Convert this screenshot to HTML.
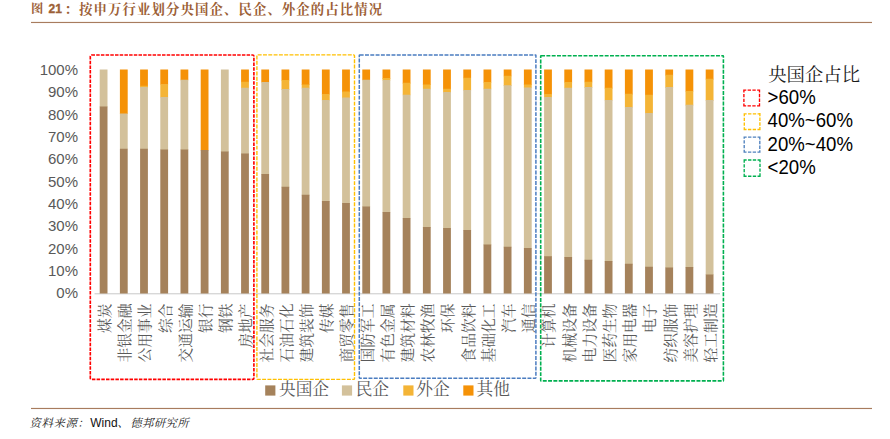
<!DOCTYPE html>
<html lang="zh"><head><meta charset="utf-8"><title>图 21：按申万行业划分央国企、民企、外企的占比情况</title>
<style>html,body{margin:0;padding:0;background:#fff;font-family:"Liberation Sans",sans-serif}svg{display:block}</style></head>
<body>
<svg role="img" width="890" height="439" viewBox="0 0 890 439" font-family="'Liberation Sans', sans-serif"><title>图 21：按申万行业划分央国企、民企、外企的占比情况</title><desc>堆积柱状图：央国企、民企、外企、其他占比（0%–100%）。分组：央国企占比 &gt;60%、40%~60%、20%~40%、&lt;20%。行业：煤炭、非银金融、公用事业、综合、交通运输、银行、钢铁、房地产、社会服务、石油石化、建筑装饰、传媒、商贸零售、国防军工、有色金属、建筑材料、农林牧渔、环保、食品饮料、基础化工、汽车、通信、计算机、机械设备、电力设备、医药生物、家用电器、电子、纺织服饰、美容护理、轻工制造。资料来源：Wind、德邦研究所</desc>
<g fill="#9C6036" font-family="'Liberation Serif', 'Noto Serif CJK SC', serif" font-weight="bold"><text x="31" y="13.2" font-size="12.3">图</text><text x="64.5" y="14" font-size="13.4">：</text><text x="79" y="14" font-size="13.4" textLength="303.2" lengthAdjust="spacing">按申万行业划分央国企、民企、外企的占比情况</text></g>
<text x="48.6" y="13.3" font-size="12" font-weight="bold" fill="#9C6036" stroke="#9C6036" stroke-width="0.35">21</text>
<rect x="31" y="21.9" width="841" height="1.15" fill="#A87C5E"/>
<g fill="#595959" font-size="15" text-anchor="end"><text x="78" y="298.4">0%</text><text x="78" y="276">10%</text><text x="78" y="253.6">20%</text><text x="78" y="231.3">30%</text><text x="78" y="208.9">40%</text><text x="78" y="186.6">50%</text><text x="78" y="164.2">60%</text><text x="78" y="141.8">70%</text><text x="78" y="119.5">80%</text><text x="78" y="97.1">90%</text><text x="78" y="74.8">100%</text></g>
<rect x="94.5" y="293.15" width="625.5" height="1.2" fill="#D2D2D2"/>
<path fill="#F59207" d="M119.9 69.4h7.8v44.7h-7.8zM140.1 69.4h7.8v17h-7.8zM160.3 69.4h7.8v15.4h-7.8zM180.5 69.4h7.8v10.9h-7.8zM200.7 69.4h7.8v81.2h-7.8zM241.1 69.4h7.8v12.9h-7.8zM261.3 69.4h7.8v13.1h-7.8zM281.5 69.4h7.8v11.1h-7.8zM301.7 69.4h7.8v15.6h-7.8zM321.9 69.4h7.8v25.2h-7.8zM342.1 69.4h7.8v22.8h-7.8zM362.3 69.4h7.8v10.9h-7.8zM382.5 69.4h7.8v9.3h-7.8zM402.7 69.4h7.8v14h-7.8zM422.9 69.4h7.8v15.6h-7.8zM443.1 69.4h7.8v19.9h-7.8zM463.3 69.4h7.8v8.9h-7.8zM483.5 69.4h7.8v13.1h-7.8zM503.7 69.4h7.8v6.9h-7.8zM523.9 69.4h7.8v15.6h-7.8zM544.1 69.4h7.8v25.2h-7.8zM564.3 69.4h7.8v13.1h-7.8zM584.5 69.4h7.8v12.9h-7.8zM604.7 69.4h7.8v19h-7.8zM624.9 69.4h7.8v25h-7.8zM645.1 69.4h7.8v25.9h-7.8zM665.3 69.4h7.8v6h-7.8zM685.5 69.4h7.8v22.1h-7.8zM705.7 69.4h7.8v10h-7.8z"/>
<path fill="#F4B436" d="M140.1 85.8h7.8v1.9h-7.8zM160.3 84.2h7.8v13.4h-7.8zM241.1 81.7h7.8v6.6h-7.8zM281.5 79.9h7.8v9.8h-7.8zM301.7 84.4h7.8v4h-7.8zM321.9 94h7.8v6.6h-7.8zM342.1 91.6h7.8v6.6h-7.8zM382.5 78.1h7.8v2.4h-7.8zM402.7 82.8h7.8v12.5h-7.8zM422.9 84.4h7.8v4.9h-7.8zM443.1 88.7h7.8v4h-7.8zM463.3 77.7h7.8v12.9h-7.8zM483.5 81.9h7.8v7.3h-7.8zM503.7 75.7h7.8v10.2h-7.8zM523.9 84.4h7.8v3.7h-7.8zM544.1 94h7.8v3.5h-7.8zM564.3 81.9h7.8v6.4h-7.8zM584.5 81.7h7.8v6h-7.8zM604.7 87.8h7.8v12.7h-7.8zM624.9 93.8h7.8v13.8h-7.8zM645.1 94.7h7.8v18.7h-7.8zM665.3 74.8h7.8v12.9h-7.8zM685.5 90.9h7.8v14.5h-7.8zM705.7 78.8h7.8v21.9h-7.8z"/>
<path fill="#D3C19B" d="M99.7 69.4h7.8v37.8h-7.8zM119.9 113.5h7.8v35.8h-7.8zM140.1 87.1h7.8v62.2h-7.8zM160.3 97h7.8v53h-7.8zM180.5 79.7h7.8v70.3h-7.8zM220.9 69.4h7.8v82.8h-7.8zM241.1 87.8h7.8v66.5h-7.8zM261.3 81.9h7.8v92.7h-7.8zM281.5 89.1h7.8v98.3h-7.8zM301.7 87.8h7.8v107.7h-7.8zM321.9 100.1h7.8v101.4h-7.8zM342.1 97.6h7.8v105.9h-7.8zM362.3 79.7h7.8v127.4h-7.8zM382.5 79.9h7.8v132.5h-7.8zM402.7 94.7h7.8v123.8h-7.8zM422.9 88.7h7.8v139h-7.8zM443.1 92h7.8v136.6h-7.8zM463.3 90h7.8v140.6h-7.8zM483.5 88.7h7.8v156.5h-7.8zM503.7 85.3h7.8v162.1h-7.8zM523.9 87.5h7.8v161h-7.8zM544.1 97h7.8v159.9h-7.8zM564.3 87.8h7.8v169.7h-7.8zM584.5 87.1h7.8v173.3h-7.8zM604.7 99.9h7.8v161.7h-7.8zM624.9 107h7.8v157.4h-7.8zM645.1 112.9h7.8v154.5h-7.8zM665.3 87.1h7.8v180.9h-7.8zM685.5 104.8h7.8v162.8h-7.8zM705.7 100.1h7.8v174.9h-7.8z"/>
<path fill="#A5825B" d="M99.7 106.6h7.8v186.8h-7.8zM119.9 148.7h7.8v144.7h-7.8zM140.1 148.7h7.8v144.7h-7.8zM160.3 149.4h7.8v144h-7.8zM180.5 149.4h7.8v144h-7.8zM200.7 150h7.8v143.4h-7.8zM220.9 151.6h7.8v141.8h-7.8zM241.1 153.6h7.8v139.8h-7.8zM261.3 174h7.8v119.4h-7.8zM281.5 186.8h7.8v106.6h-7.8zM301.7 194.8h7.8v98.6h-7.8zM321.9 200.9h7.8v92.5h-7.8zM342.1 202.9h7.8v90.5h-7.8zM362.3 206.5h7.8v86.9h-7.8zM382.5 211.9h7.8v81.5h-7.8zM402.7 217.9h7.8v75.5h-7.8zM422.9 227.1h7.8v66.3h-7.8zM443.1 228h7.8v65.4h-7.8zM463.3 230h7.8v63.4h-7.8zM483.5 244.6h7.8v48.8h-7.8zM503.7 246.8h7.8v46.6h-7.8zM523.9 247.9h7.8v45.5h-7.8zM544.1 256.2h7.8v37.2h-7.8zM564.3 256.9h7.8v36.5h-7.8zM584.5 259.8h7.8v33.6h-7.8zM604.7 260.9h7.8v32.5h-7.8zM624.9 263.8h7.8v29.6h-7.8zM645.1 266.7h7.8v26.7h-7.8zM665.3 267.4h7.8v26h-7.8zM685.5 267h7.8v26.4h-7.8zM705.7 274.4h7.8v19h-7.8z"/>
<g fill="#595959" font-family="'Liberation Serif', 'Noto Serif CJK SC', serif" font-size="14.78" text-anchor="end">
<text transform="translate(110 303.5) rotate(-90)">煤炭</text>
<text transform="translate(130.2 303.5) rotate(-90)">非银金融</text>
<text transform="translate(150.4 303.5) rotate(-90)">公用事业</text>
<text transform="translate(170.6 303.5) rotate(-90)">综合</text>
<text transform="translate(190.8 303.5) rotate(-90)">交通运输</text>
<text transform="translate(211 303.5) rotate(-90)">银行</text>
<text transform="translate(231.2 303.5) rotate(-90)">钢铁</text>
<text transform="translate(251.4 303.5) rotate(-90)">房地产</text>
<text transform="translate(271.6 303.5) rotate(-90)">社会服务</text>
<text transform="translate(291.8 303.5) rotate(-90)">石油石化</text>
<text transform="translate(312 303.5) rotate(-90)">建筑装饰</text>
<text transform="translate(332.2 303.5) rotate(-90)">传媒</text>
<text transform="translate(352.4 303.5) rotate(-90)">商贸零售</text>
<text transform="translate(372.6 303.5) rotate(-90)">国防军工</text>
<text transform="translate(392.8 303.5) rotate(-90)">有色金属</text>
<text transform="translate(413 303.5) rotate(-90)">建筑材料</text>
<text transform="translate(433.2 303.5) rotate(-90)">农林牧渔</text>
<text transform="translate(453.4 303.5) rotate(-90)">环保</text>
<text transform="translate(473.6 303.5) rotate(-90)">食品饮料</text>
<text transform="translate(493.8 303.5) rotate(-90)">基础化工</text>
<text transform="translate(514 303.5) rotate(-90)">汽车</text>
<text transform="translate(534.2 303.5) rotate(-90)">通信</text>
<text transform="translate(554.4 303.5) rotate(-90)">计算机</text>
<text transform="translate(574.6 303.5) rotate(-90)">机械设备</text>
<text transform="translate(594.8 303.5) rotate(-90)">电力设备</text>
<text transform="translate(615 303.5) rotate(-90)">医药生物</text>
<text transform="translate(635.2 303.5) rotate(-90)">家用电器</text>
<text transform="translate(655.4 303.5) rotate(-90)">电子</text>
<text transform="translate(675.6 303.5) rotate(-90)">纺织服饰</text>
<text transform="translate(695.8 303.5) rotate(-90)">美容护理</text>
<text transform="translate(716 303.5) rotate(-90)">轻工制造</text>
</g>
<rect x="90.3" y="55" width="163.6" height="324.4" rx="1.2" fill="none" stroke="#FF0000" stroke-width="1.65" stroke-dasharray="3.5 1.2"/>
<rect x="256.9" y="54.9" width="97.6" height="324.5" rx="0.8" fill="none" stroke="#FFC000" stroke-width="1.4" stroke-dasharray="3.95 1.35"/>
<rect x="359.3" y="54.9" width="176.6" height="323.3" rx="0.4" fill="none" stroke="#4A7CC0" stroke-width="1.5" stroke-dasharray="3.95 1.35"/>
<rect x="540.7" y="55.7" width="182.7" height="325.2" rx="0.4" fill="none" stroke="#00B050" stroke-width="1.6" stroke-dasharray="3.95 1.35"/>
<rect x="265.2" y="385.4" width="10.2" height="10.2" fill="#A5825B"/>
<text x="279" y="395.4" font-size="16.7" fill="#595959" font-family="'Liberation Serif', 'Noto Serif CJK SC', serif">央国企</text>
<rect x="341.9" y="385.4" width="10.2" height="10.2" fill="#D3C19B"/>
<text x="355.7" y="395.4" font-size="16.7" fill="#595959" font-family="'Liberation Serif', 'Noto Serif CJK SC', serif">民企</text>
<rect x="403.3" y="385.4" width="10.2" height="10.2" fill="#F4B436"/>
<text x="416.3" y="395.4" font-size="16.7" fill="#595959" font-family="'Liberation Serif', 'Noto Serif CJK SC', serif">外企</text>
<rect x="463.3" y="385.4" width="10.2" height="10.2" fill="#F59207"/>
<text x="476.6" y="395.4" font-size="16.7" fill="#595959" font-family="'Liberation Serif', 'Noto Serif CJK SC', serif">其他</text>
<text x="768.2" y="81" font-size="18.4" fill="#1a1a1a" font-family="'Liberation Serif', 'Noto Serif CJK SC', serif">央国企占比</text>
<path d="M743.2 90.1h16.9M759.5 89.4v17M760.1 105.8h-16.9M743.9 106.5v-17" fill="none" stroke="#FF0000" stroke-width="1.35" stroke-dasharray="3.35 1.4" stroke-dashoffset="0.3"/>
<text transform="translate(767.6 103.9) scale(0.945 1)" font-size="19.7" fill="#000">&gt;60%</text>
<path d="M743.6 113.8h16.9M759.9 113.1v17M760.5 129.5h-16.9M744.3 130.2v-17" fill="none" stroke="#FFC000" stroke-width="1.35" stroke-dasharray="3.35 1.4" stroke-dashoffset="0.3"/>
<text transform="translate(767.6 127.4) scale(0.945 1)" font-size="19.7" fill="#000">40%~60%</text>
<path d="M743.6 137.1h16.9M759.8 136.4v16.3M760.5 152.1h-16.9M744.2 152.8v-16.3" fill="none" stroke="#4F81BD" stroke-width="1.35" stroke-dasharray="3.35 1.4" stroke-dashoffset="0.3"/>
<text transform="translate(767.6 150.7) scale(0.945 1)" font-size="19.7" fill="#000">20%~40%</text>
<path d="M743.6 160h17.1M760 159.3v17.5M760.6 176.2h-17.1M744.2 176.8v-17.5" fill="none" stroke="#00B050" stroke-width="1.35" stroke-dasharray="3.35 1.4" stroke-dashoffset="0.3"/>
<text transform="translate(767.6 174.4) scale(0.945 1)" font-size="19.7" fill="#000">&lt;20%</text>
<rect x="31" y="407.9" width="841" height="1.15" fill="#A87C5E"/>
<g fill="#1b1b1b" font-family="'Liberation Serif', 'Noto Serif CJK SC', serif" font-size="11.4" font-style="italic"><text x="29.5" y="426.6" letter-spacing="0.6">资料来源：</text><text x="117.5" y="426.6">、</text><text x="130.2" y="426.6" letter-spacing="0.4">德邦研究所</text></g>
<text x="90.3" y="426.7" font-size="12" fill="#111">Wind</text>
</svg>
</body></html>
